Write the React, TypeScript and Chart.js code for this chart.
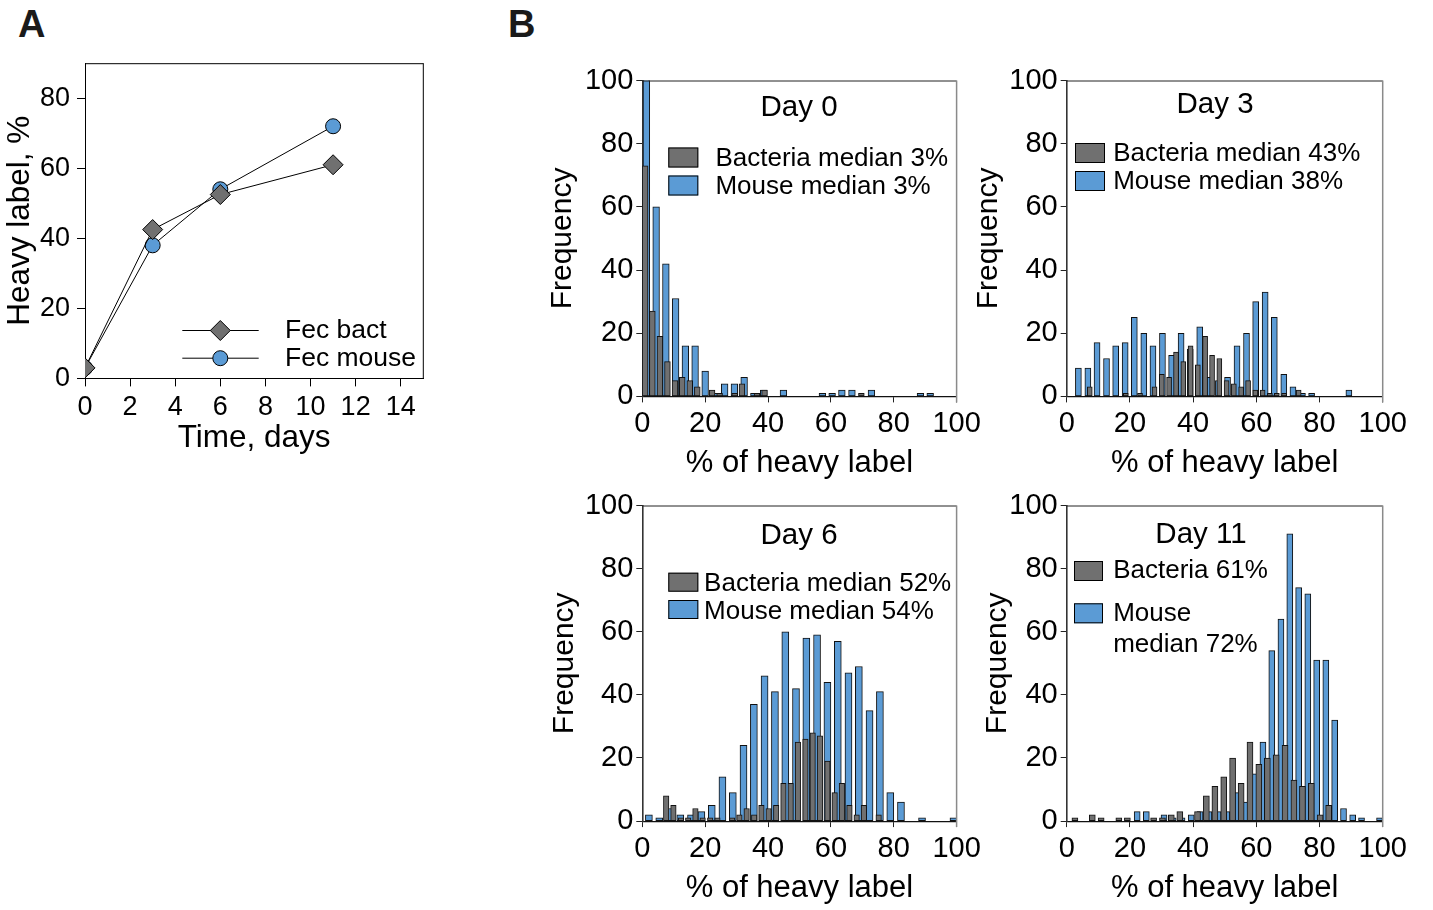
import React, { useEffect, useRef } from "react";
import { Chart, registerables } from "chart.js";
Chart.register(...registerables);

const FONT = "'Liberation Sans', Arial, Helvetica, sans-serif";
const BLUE = "#5b9bd5";
const GRAY = "#707070";
Chart.defaults.font.family = FONT;
Chart.defaults.color = "#000";

// ---------- Panel A ----------
const daysA = [0, 3, 6, 11];
const fecBact = [3, 42.5, 52.5, 61];
const fecMouse = [3, 38, 54, 72];
const xTicksA = [0, 2, 4, 6, 8, 10, 12, 14];
const yTicksA = [0, 20, 40, 60, 80];

// ---------- Panel B histograms ----------
const histTicks = [0, 20, 40, 60, 80, 100];

const d0BactBins = [0.9, 3.2, 5.6, 8.0, 10.4, 12.7, 15.1, 17.5, 22.2, 24.6, 29.4, 31.7, 36.5, 38.9, 69.7];
const d0BactFreq = [73, 27, 19, 11, 5, 6, 5, 3, 2, 1, 1, 4, 1, 2, 1];
const d0MouseBins = [1.3, 4.4, 7.5, 10.6, 13.7, 16.8, 20.0, 23.1, 26.2, 29.3, 32.4, 35.5, 38.6, 44.9, 57.3, 60.4, 63.5, 66.7, 72.9, 88.5, 91.6];
const d0MouseFreq = [110, 60, 42, 31, 16, 16, 8, 1, 4, 4, 6, 1, 2, 2, 1, 1, 2, 2, 2, 1, 1];

const d3BactBins = [7.3, 18.7, 23.2, 27.8, 30.1, 32.4, 34.6, 36.9, 39.2, 41.5, 43.8, 46.0, 48.3, 50.6, 52.9, 55.2, 57.4, 59.7, 62.0, 64.3, 66.5, 68.8, 73.4];
const d3BactFreq = [3, 1, 1, 3, 7, 6, 14, 11, 16, 10, 19, 13, 12, 5, 4, 3, 5, 2, 2, 1, 1, 1, 2];
const d3MouseBins = [3.7, 6.7, 9.6, 12.6, 15.5, 18.5, 21.4, 24.4, 27.3, 30.3, 33.2, 36.2, 39.1, 42.1, 45.0, 48.0, 50.9, 53.9, 56.9, 59.8, 62.8, 65.7, 68.7, 71.6, 74.6, 77.5, 89.3];
const d3MouseFreq = [9, 9, 17, 12, 16, 17, 25, 20, 16, 20, 13, 20, 15, 22, 6, 5, 6, 16, 20, 30, 33, 25, 7, 3, 1, 1, 2];

const d6BactBins = [7.6, 9.9, 12.3, 14.6, 16.9, 19.2, 21.6, 23.9, 28.6, 30.9, 33.2, 35.6, 37.9, 40.2, 42.6, 44.9, 47.2, 49.5, 51.9, 54.2, 56.5, 58.9, 61.2, 63.5, 65.9, 68.2, 70.5, 75.2];
const d6BactFreq = [8, 5, 1, 1, 4, 1, 1, 1, 1, 2, 4, 2, 5, 4, 5, 12, 12, 25, 26, 28, 27, 19, 9, 12, 5, 2, 5, 2];
const d6MouseBins = [2.1, 5.4, 8.8, 12.1, 15.5, 18.8, 22.1, 25.5, 28.8, 32.2, 35.5, 38.9, 42.2, 45.5, 48.9, 52.2, 55.6, 58.9, 62.2, 65.6, 68.9, 72.3, 75.6, 78.9, 82.3, 89.0, 99.0];
const d6MouseFreq = [2, 1, 4, 2, 2, 3, 5, 14, 9, 24, 37, 46, 41, 60, 42, 58, 59, 44, 57, 47, 49, 35, 41, 9, 6, 1, 1];

const d11BactBins = [2.6, 8.1, 10.9, 16.5, 19.2, 27.5, 30.3, 33.1, 35.8, 41.4, 44.2, 46.9, 49.7, 52.5, 55.2, 58.0, 60.8, 63.5, 66.3, 69.1, 71.9, 74.6, 77.4, 80.2, 82.9];
const d11BactFreq = [1, 2, 1, 1, 1, 1, 1, 2, 3, 3, 8, 11, 14, 20, 12, 25, 18, 20, 21, 24, 13, 11, 12, 2, 5];
const d11MouseBins = [22.3, 25.2, 30.8, 33.7, 36.5, 39.4, 42.2, 45.0, 47.9, 50.7, 53.6, 56.4, 59.2, 62.1, 64.9, 67.8, 70.6, 73.4, 76.3, 79.1, 82.0, 84.8, 87.6, 90.5, 93.3, 99.0];
const d11MouseFreq = [3, 3, 2, 1, 1, 2, 3, 3, 3, 3, 9, 6, 15, 25, 54, 64, 91, 74, 72, 51, 51, 32, 4, 2, 1, 1];

// ---------- decoration plugin (frame, in-plot titles, legends) ----------
const decoPlugin = {
  id: "deco",
  afterDraw(chart: any, _args: any, opts: any) {
    const { ctx, chartArea: a } = chart;
    ctx.save();
    if (opts.frame) {
      const f = opts.frame;
      ctx.lineWidth = f.topWidth;
      ctx.strokeStyle = f.topColor;
      ctx.beginPath();
      ctx.moveTo(a.left, a.top + 0.5);
      ctx.lineTo(a.right, a.top + 0.5);
      ctx.stroke();
      ctx.lineWidth = f.rightWidth;
      ctx.strokeStyle = f.rightColor;
      ctx.beginPath();
      ctx.moveTo(a.right, a.top);
      ctx.lineTo(a.right, a.bottom + f.rightExtra);
      ctx.stroke();
    }
    if (opts.title) {
      const t = opts.title;
      ctx.font = `${t.size}px ${FONT}`;
      ctx.fillStyle = "#000";
      ctx.textAlign = "center";
      ctx.textBaseline = "middle";
      ctx.fillText(t.text, a.left + t.dx, a.top + t.dy);
    }
    (opts.boxes || []).forEach((it: any) => {
      const ds = chart.data.datasets[it.ds];
      ctx.fillStyle = ds.backgroundColor;
      ctx.fillRect(a.left + it.bx, a.top + it.by, it.bw, it.bh);
      ctx.strokeStyle = "#000";
      ctx.lineWidth = 1;
      ctx.strokeRect(a.left + it.bx + 0.5, a.top + it.by + 0.5, it.bw - 1, it.bh - 1);
      ctx.fillStyle = "#000";
      ctx.font = `${it.size}px ${FONT}`;
      ctx.textAlign = "left";
      ctx.textBaseline = "middle";
      String(ds.label).split("\n").forEach((ln: string, i: number) => {
        ctx.fillText(ln, a.left + it.tx, a.top + it.ty + i * it.lh);
      });
    });
    (opts.lineItems || []).forEach((it: any) => {
      const ds = chart.data.datasets[it.ds];
      const y = a.top + it.y;
      ctx.strokeStyle = "#000";
      ctx.lineWidth = 1;
      ctx.beginPath();
      ctx.moveTo(a.left + it.x0, y);
      ctx.lineTo(a.left + it.x1, y);
      ctx.stroke();
      const cx = a.left + it.mx;
      ctx.fillStyle = ds.pointBackgroundColor;
      ctx.beginPath();
      if (ds.pointStyle === "rectRot") {
        const r = ds.pointRadius;
        ctx.moveTo(cx, y - r);
        ctx.lineTo(cx + r, y);
        ctx.lineTo(cx, y + r);
        ctx.lineTo(cx - r, y);
        ctx.closePath();
      } else {
        ctx.arc(cx, y, ds.pointRadius, 0, Math.PI * 2);
      }
      ctx.fill();
      ctx.stroke();
      ctx.fillStyle = "#000";
      ctx.font = `${it.size}px ${FONT}`;
      ctx.textAlign = "left";
      ctx.textBaseline = "middle";
      ctx.fillText(ds.label, a.left + it.tx, y);
    });
    ctx.restore();
  },
};

function fixedTicks(values: number[]) {
  return (scale: any) => {
    scale.ticks = values.map((v) => ({ value: v }));
  };
}

// ---------- Panel A config ----------
function panelAConfig(): any {
  return {
    type: "line",
    data: {
      datasets: [
        {
          label: "Fec bact",
          data: daysA.map((x, i) => ({ x, y: fecBact[i] })),
          borderColor: "#000",
          borderWidth: 1,
          pointStyle: "rectRot",
          pointRadius: 10,
          pointBackgroundColor: GRAY,
          pointBorderColor: "#000",
          pointBorderWidth: 1,
          tension: 0,
        },
        {
          label: "Fec mouse",
          data: daysA.map((x, i) => ({ x, y: fecMouse[i] })),
          borderColor: "#000",
          borderWidth: 1,
          pointStyle: "circle",
          pointRadius: 7.5,
          pointBackgroundColor: BLUE,
          pointBorderColor: "#000",
          pointBorderWidth: 1,
          tension: 0,
        },
      ],
    },
    options: {
      responsive: false,
      animation: false,
      layout: { padding: { top: 21, right: 16.7, left: 0, bottom: 0 } },
      plugins: {
        legend: { display: false },
        tooltip: { enabled: false },
        deco: {
          frame: { topWidth: 1, topColor: "#000", rightWidth: 1, rightColor: "#000", rightExtra: 0 },
          lineItems: [
            { ds: 0, x0: 97.3, x1: 173.7, mx: 135.3, y: 267.3, tx: 200, size: 26.5 },
            { ds: 1, x0: 97.3, x1: 173.7, mx: 135.3, y: 295, tx: 200, size: 26.5 },
          ],
        },
      },
      scales: {
        x: {
          type: "linear",
          min: 0,
          max: 15,
          afterBuildTicks: fixedTicks(xTicksA),
          afterFit: (s: any) => {
            s.height = 78.6;
          },
          grid: { display: true, drawOnChartArea: false, tickLength: 8, color: "#000", lineWidth: 1 },
          border: { display: true, color: "#000", width: 1 },
          ticks: { font: { size: 27 }, color: "#000", padding: 5, maxRotation: 0, autoSkip: false },
          title: { display: true, text: "Time, days", font: { size: 31.5 }, color: "#000", padding: 0 },
        },
        y: {
          type: "linear",
          min: 0,
          max: 90,
          afterBuildTicks: fixedTicks(yTicksA),
          afterFit: (s: any) => {
            s.width = 84;
          },
          grid: { display: true, drawOnChartArea: false, tickLength: 8, color: "#000", lineWidth: 1 },
          border: { display: true, color: "#000", width: 1 },
          ticks: { font: { size: 27 }, color: "#000", padding: 7, autoSkip: false },
          title: { display: true, text: "Heavy label, %", font: { size: 31.5 }, color: "#000", padding: 0 },
        },
      },
    },
    plugins: [decoPlugin],
  };
}

// ---------- histogram config ----------
type HistSpec = {
  bactLabel: string;
  mouseLabel: string;
  bactBins: number[];
  bactFreq: number[];
  mouseBins: number[];
  mouseFreq: number[];
  bactW: number;
  mouseW: number;
  yW: number;
  xH: number;
  padTop: number;
  padRight: number;
  title: any;
  boxes: any[];
};

function histConfig(h: HistSpec): any {
  return {
    type: "bar",
    data: {
      datasets: [
        {
          label: h.bactLabel,
          data: h.bactBins.map((x, i) => ({ x, y: h.bactFreq[i] })),
          backgroundColor: GRAY,
          borderColor: "#111",
          borderWidth: 1,
          borderSkipped: false,
          barThickness: h.bactW,
          grouped: false,
        },
        {
          label: h.mouseLabel,
          data: h.mouseBins.map((x, i) => ({ x, y: h.mouseFreq[i] })),
          backgroundColor: BLUE,
          borderColor: "#111",
          borderWidth: 1,
          borderSkipped: false,
          barThickness: h.mouseW,
          grouped: false,
        },
      ],
    },
    options: {
      responsive: false,
      animation: false,
      layout: { padding: { top: h.padTop, right: h.padRight, left: 0, bottom: 0 } },
      plugins: {
        legend: { display: false },
        tooltip: { enabled: false },
        deco: {
          frame: { topWidth: 1, topColor: "#222", rightWidth: 1.5, rightColor: "#8a8a8a", rightExtra: 6 },
          title: h.title,
          boxes: h.boxes,
        },
      },
      scales: {
        x: {
          type: "linear",
          min: 0,
          max: 100,
          offset: false,
          afterBuildTicks: fixedTicks(histTicks),
          afterFit: (s: any) => {
            s.height = h.xH;
          },
          grid: { display: true, drawOnChartArea: false, tickLength: 6, color: "#222", lineWidth: 1, offset: false },
          border: { display: true, color: "#111", width: 1.2 },
          ticks: { font: { size: 29 }, color: "#000", padding: 4, maxRotation: 0, autoSkip: false },
          title: { display: true, text: "% of heavy label", font: { size: 31 }, color: "#000", padding: 0 },
        },
        y: {
          type: "linear",
          min: 0,
          max: 100,
          afterBuildTicks: fixedTicks(histTicks),
          afterFit: (s: any) => {
            s.width = h.yW;
          },
          grid: { display: true, drawOnChartArea: false, tickLength: 6, color: "#222", lineWidth: 1 },
          border: { display: true, color: "#333", width: 1.6 },
          ticks: { font: { size: 29 }, color: "#000", padding: 3, autoSkip: false },
          title: { display: true, text: "Frequency", font: { size: 30 }, color: "#000", padding: 0 },
        },
      },
    },
    plugins: [decoPlugin],
  };
}

const day0 = histConfig({
  bactLabel: "Bacteria median 3%",
  mouseLabel: "Mouse median 3%",
  bactBins: d0BactBins,
  bactFreq: d0BactFreq,
  mouseBins: d0MouseBins,
  mouseFreq: d0MouseFreq,
  bactW: 5.8,
  mouseW: 6.7,
  yW: 97.3,
  xH: 85.6,
  padTop: 30.5,
  padRight: 38.4,
  title: { text: "Day 0", size: 29.5, dx: 156.7, dy: 27 },
  boxes: [
    { ds: 0, bx: 26, by: 67, bw: 30, bh: 20, tx: 73.1, ty: 78, lh: 31, size: 26 },
    { ds: 1, bx: 26, by: 95, bw: 30, bh: 20, tx: 73.1, ty: 106, lh: 31, size: 26 },
  ],
});

const day3 = histConfig({
  bactLabel: "Bacteria median 43%",
  mouseLabel: "Mouse median 38%",
  bactBins: d3BactBins,
  bactFreq: d3BactFreq,
  mouseBins: d3MouseBins,
  mouseFreq: d3MouseFreq,
  bactW: 5,
  mouseW: 6,
  yW: 95.7,
  xH: 85.6,
  padTop: 30.5,
  padRight: 42.3,
  title: { text: "Day 3", size: 29.5, dx: 148.3, dy: 24 },
  boxes: [
    { ds: 0, bx: 8.3, by: 62.5, bw: 30, bh: 20, tx: 46.5, ty: 73, lh: 31, size: 26 },
    { ds: 1, bx: 8.3, by: 90.5, bw: 30, bh: 20, tx: 46.5, ty: 101, lh: 31, size: 26 },
  ],
});

const day6 = histConfig({
  bactLabel: "Bacteria median 52%",
  mouseLabel: "Mouse median 54%",
  bactBins: d6BactBins,
  bactFreq: d6BactFreq,
  mouseBins: d6MouseBins,
  mouseFreq: d6MouseFreq,
  bactW: 5.5,
  mouseW: 7,
  yW: 95.3,
  xH: 85.9,
  padTop: 30.5,
  padRight: 38.4,
  title: { text: "Day 6", size: 29.5, dx: 156.7, dy: 30 },
  boxes: [
    { ds: 0, bx: 26, by: 67.2, bw: 30, bh: 19, tx: 61.8, ty: 78.5, lh: 31, size: 26 },
    { ds: 1, bx: 26, by: 94.5, bw: 30, bh: 19, tx: 61.8, ty: 106, lh: 31, size: 26 },
  ],
});

const day11 = histConfig({
  bactLabel: "Bacteria 61%",
  mouseLabel: "Mouse\nmedian 72%",
  bactBins: d11BactBins,
  bactFreq: d11BactFreq,
  mouseBins: d11MouseBins,
  mouseFreq: d11MouseFreq,
  bactW: 6,
  mouseW: 6,
  yW: 86.7,
  xH: 85.9,
  padTop: 30.5,
  padRight: 42.3,
  title: { text: "Day 11", size: 29.5, dx: 134.3, dy: 29.5 },
  boxes: [
    { ds: 0, bx: 7.3, by: 55.5, bw: 29, bh: 20, tx: 46.5, ty: 65.5, lh: 31, size: 26 },
    { ds: 1, bx: 7.3, by: 97.8, bw: 29, bh: 20, tx: 46.5, ty: 108.3, lh: 31.2, size: 26 },
  ],
});

function ChartCanvas(props: { left: number; top: number; width: number; height: number; config: any }) {
  const ref = useRef<HTMLCanvasElement | null>(null);
  useEffect(() => {
    const chart = new Chart(ref.current as HTMLCanvasElement, props.config);
    return () => chart.destroy();
  }, []);
  return (
    <canvas
      ref={ref}
      width={props.width}
      height={props.height}
      style={{ position: "absolute", left: props.left, top: props.top, width: props.width, height: props.height }}
    />
  );
}

const letterStyle: React.CSSProperties = {
  position: "absolute",
  top: 5,
  fontFamily: FONT,
  fontWeight: "bold",
  fontSize: 38,
  lineHeight: 1,
  color: "#1a1a1a",
};

export default function App() {
  return (
    <div style={{ position: "absolute", left: 0, top: 0, width: 1433, height: 910, background: "#fff" }}>
      <div style={{ ...letterStyle, left: 18 }}>A</div>
      <div style={{ ...letterStyle, left: 508 }}>B</div>
      <ChartCanvas left={1} top={40} width={439} height={417} config={panelAConfig()} />
      <ChartCanvas left={545} top={50} width={450} height={432} config={day0} />
      <ChartCanvas left={971} top={50} width={454} height={432} config={day3} />
      <ChartCanvas left={547} top={475} width={448} height={432} config={day6} />
      <ChartCanvas left={980} top={475} width={445} height={432} config={day11} />
    </div>
  );
}
